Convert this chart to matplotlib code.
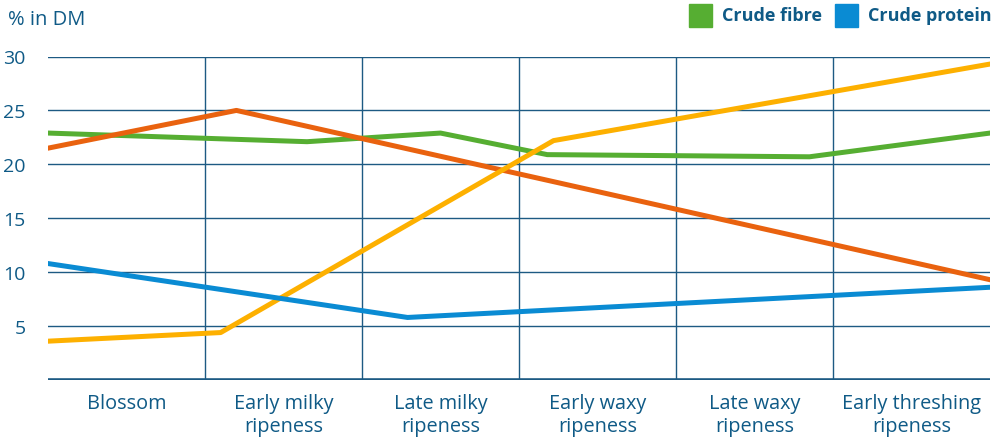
import matplotlib.pyplot as plt
from matplotlib.patches import Rectangle

plt.rcParams['font.family'] = ['Open Sans', 'DejaVu Sans']

categories = ["Blossom", "Early milky\nripeness", "Late milky\nripeness",
              "Early waxy\nripeness", "Late waxy\nripeness", "Early threshing\nripeness"]

# x in category units (0 = left edge, 6 = right edge)
fibre_x = [0, 1.65, 2.50, 3.18, 4.85, 6]
fibre_y = [22.9, 22.1, 22.9, 20.9, 20.7, 22.9]

orange_x = [0, 1.20, 6]
orange_y = [21.5, 25.0, 9.3]

yellow_x = [0, 1.10, 3.22, 6]
yellow_y = [3.6, 4.4, 22.2, 29.3]

protein_x = [0, 2.29, 6]
protein_y = [10.8, 5.8, 8.6]

yticks = [5, 10, 15, 20, 25, 30]
legend_labels = ["Crude fibre", "Crude protein"]

navy = "#0f5a86"
grid_c = "#1d5a83"
green = "#56ae32"
blue = "#0a8bd3"
orange = "#e9620f"
yellow = "#fdb000"

W, H = 993, 439
fig = plt.figure(figsize=(W / 100, H / 100), dpi=100)
ax = fig.add_axes([48/W, 58/H, 942/W, 323.5/H])

for y in yticks:
    ax.plot([0, 6], [y, y], color=grid_c, lw=1.0, zorder=1)
for x in range(1, 6):
    ax.plot([x, x], [0, 30], color=grid_c, lw=1.0, zorder=1)
ax.plot([0, 6], [0, 0], color=grid_c, lw=2.6, zorder=3, solid_capstyle='butt')

lw = 3.6
ax.plot(fibre_x, fibre_y, color=green, lw=lw, zorder=2)
ax.plot(orange_x, orange_y, color=orange, lw=lw, zorder=2)
ax.plot(yellow_x, yellow_y, color=yellow, lw=lw, zorder=2)
ax.plot(protein_x, protein_y, color=blue, lw=lw, zorder=2)

ax.set_xlim(0, 6)
ax.set_ylim(0, 30)
ax.set_xticks([])
ax.set_yticks(yticks)
ax.set_yticklabels([str(v) for v in yticks], fontsize=14, color=navy)
ax.tick_params(axis='y', length=0, pad=16)
for s in ax.spines.values():
    s.set_visible(False)

for i, lab in enumerate(categories):
    ax.text(i + 0.5, -1.2, lab, ha='center', va='top', fontsize=14.3,
            color=navy, linespacing=1.2)

fig.text(8/W, 1 - 20/H, "% in DM", fontsize=14.5, color=navy, va='center')

# legend drawn by hand: square + bold label
leg_x = [689, 835]
for lx, lab, c in zip(leg_x, legend_labels, [green, blue]):
    fig.patches.append(Rectangle((lx / W, 1 - 28/H), 23/W, 23/H,
                                 transform=fig.transFigure, color=c))
    fig.text((lx + 33) / W, 1 - 16/H, lab, fontsize=13, fontweight='bold',
             color=navy, va='center')

fig.savefig("out.png", dpi=100)
